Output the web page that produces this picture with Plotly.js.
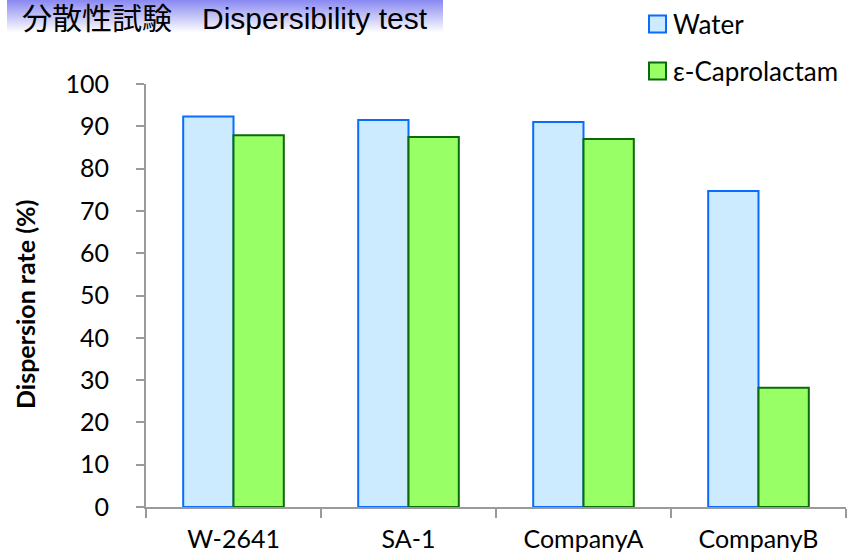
<!DOCTYPE html>
<html>
<head>
<meta charset="utf-8">
<script src="https://cdn.plot.ly/plotly-3.0.1.min.js"></script>
<style>html,body{margin:0;padding:0;background:#fff;}#chart{width:847px;height:557px;}</style>
</head>
<body>
<div id="chart"></div>
<script>
const categories = ["W-2641", "SA-1", "CompanyA", "CompanyB"];
const waterValues = [92.3, 91.5, 91.0, 74.7];
const caprolactamValues = [87.9, 87.5, 87.0, 28.2];
const yTickValues = [0, 10, 20, 30, 40, 50, 60, 70, 80, 90, 100];
const seriesNames = ["Water", "ε-Caprolactam"];
const seriesFill = ["#CCEBFF", "#99FF66"];
const seriesLine = ["#0A6CFF", "#0B6B0B"];
const titleText = "分散性試験\u3000Dispersibility test";
const yAxisTitle = "<b>Dispersion rate (%)</b>";

const W = 847, H = 557;
const L = 146, R = 1, T = 84, B = 50;
const pw = W - L - R, ph = H - T - B;
const px2x = p => (p - L) / pw;
const py2y = p => (H - B - p) / ph;

// title band gradient (decoration)
const shapes = [];
const bandTop = 0, bandBot = 33, bandL = 7, bandR = 443;
const steps = 33;
for (let i = 0; i < steps; i++) {
  const t = i / (steps - 1);
  const r = Math.round(138 + (255 - 138) * t);
  const g = Math.round(138 + (255 - 138) * t);
  const b = Math.round(242 + (255 - 242) * t);
  const h = (bandBot - bandTop) / steps;
  shapes.push({
    type: "rect", xref: "paper", yref: "paper", layer: "below",
    x0: px2x(bandL), x1: px2x(bandR),
    y0: py2y(bandTop + (i + 1) * h + 0.4),
    y1: py2y(bandTop + i * h),
    fillcolor: `rgb(${r},${g},${b})`, line: {width: 0}
  });
}

// custom legend (squares + text), styled like the reference
const legendFont = {family: "Lato, 'Open Sans', sans-serif", size: 26, color: "#000"};
const legendRows = [24, 71];
const annotations = [];
seriesNames.forEach((name, i) => {
  const cy = legendRows[i];
  shapes.push({
    type: "rect", xref: "paper", yref: "paper",
    x0: px2x(649), x1: px2x(666), y0: py2y(cy + 8.5), y1: py2y(cy - 8.5),
    fillcolor: seriesFill[i], line: {color: seriesLine[i], width: 2}
  });
  annotations.push({
    xref: "paper", yref: "paper", x: px2x(671), y: py2y(cy),
    xanchor: "left", yanchor: "middle", showarrow: false,
    text: name, font: legendFont
  });
});

// y-axis title (placed like the reference)
annotations.push({
  xref: "paper", yref: "paper", x: px2x(25), y: py2y(305),
  xanchor: "center", yanchor: "middle", showarrow: false, textangle: -90,
  text: yAxisTitle, font: {family: "Lato, 'Open Sans', sans-serif", size: 25, color: "#000"}
});

const yTickFont = {family: "Lato, 'Open Sans', sans-serif", size: 25, color: "#000"};
const xTickFont = {family: "Lato, 'Open Sans', sans-serif", size: 25, color: "#000"};

const data = seriesNames.map((name, i) => ({
  type: "bar", name: name, x: categories,
  y: i === 0 ? waterValues : caprolactamValues,
  marker: {color: seriesFill[i], line: {color: seriesLine[i], width: 2}},
  hoverinfo: "x+y"
}));

const layout = {
  width: W, height: H,
  margin: {l: L, r: R, t: T, b: B, pad: 0},
  paper_bgcolor: "#fff", plot_bgcolor: "rgba(0,0,0,0)",
  barmode: "group", bargap: 0.425, bargroupgap: 0,
  title: {
    text: titleText,
    font: {family: "'Liberation Sans', 'Noto Sans CJK JP', sans-serif", size: 30, color: "#000"},
    x: 22 / W, xanchor: "left", y: 1 - 18 / H, yanchor: "middle"
  },
  showlegend: false,
  xaxis: {
    type: "category", tickfont: xTickFont,
    showline: true, linecolor: "#9A9A9A", linewidth: 2,
    ticks: "outside", tickson: "boundaries", ticklen: 9, tickcolor: "#9A9A9A", tickwidth: 2,
    ticklabelstandoff: 9, showgrid: false, zeroline: false, fixedrange: true
  },
  yaxis: {
    range: [0, 100], tickvals: yTickValues, tickfont: yTickFont,
    showline: true, linecolor: "#9A9A9A", linewidth: 2,
    ticks: "outside", ticklen: 8, tickcolor: "#9A9A9A", tickwidth: 2,
    ticklabelstandoff: 22, showgrid: false, zeroline: false, fixedrange: true,
    automargin: false
  },
  shapes: shapes,
  annotations: annotations
};

Plotly.newPlot("chart", data, layout, {displayModeBar: false, staticPlot: true});
</script>
</body>
</html>
